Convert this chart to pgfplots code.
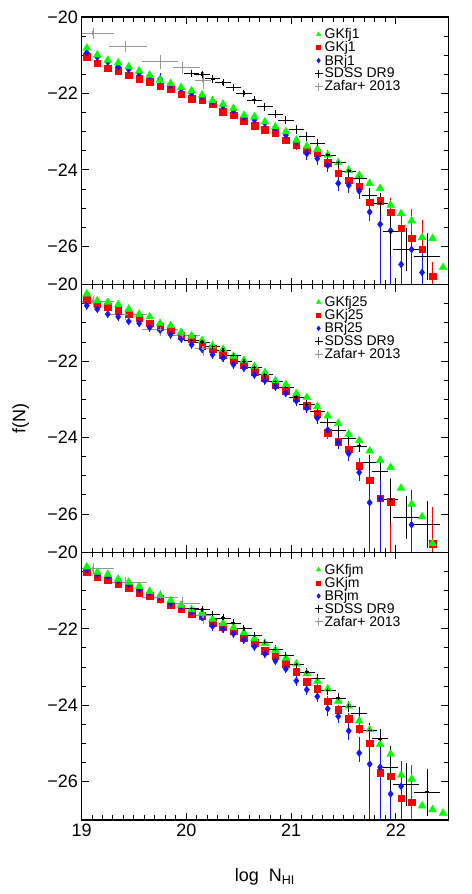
\documentclass[border=0pt]{standalone}
\usepackage{fontspec}
\setmainfont{Liberation Sans}
\usepackage{pgfplots}
\usepackage{pgfplotstable}
\pgfplotsset{compat=1.18}

\definecolor{mgreen}{RGB}{0,255,0}
\definecolor{mred}{RGB}{255,0,0}
\definecolor{mblue}{RGB}{20,20,255}
\definecolor{zgray}{RGB}{150,150,150}

% model points: x, GKfj, GKj (+/-), BRj (+/-)
\pgfplotstableread{
x g r rp rm b bp bm
19.05 -20.81 -21.04 0.03 0.03 -20.93 0.04 0.04
19.15 -20.99 -21.21 0.03 0.03 -21.05 0.04 0.04
19.25 -21.13 -21.34 0.03 0.03 -21.18 0.08 0.04
19.35 -21.20 -21.40 0.03 0.03 -21.30 0.04 0.04
19.45 -21.30 -21.52 0.03 0.03 -21.37 0.04 0.04
19.55 -21.41 -21.62 0.03 0.03 -21.47 0.04 0.04
19.65 -21.52 -21.69 0.03 0.03 -21.55 0.04 0.04
19.75 -21.65 -21.81 0.03 0.03 -21.62 0.08 0.04
19.85 -21.74 -21.87 0.03 0.03 -21.78 0.04 0.04
19.95 -21.84 -22.02 0.03 0.03 -21.88 0.04 0.04
20.05 -21.93 -22.13 0.03 0.03 -22.00 0.04 0.04
20.15 -22.04 -22.17 0.03 0.03 -22.08 0.04 0.04
20.25 -22.19 -22.28 0.03 0.03 -22.22 0.04 0.04
20.35 -22.28 -22.48 0.03 0.03 -22.33 0.04 0.04
20.45 -22.39 -22.57 0.03 0.03 -22.45 0.04 0.04
20.55 -22.57 -22.71 0.03 0.03 -22.62 0.04 0.04
20.65 -22.61 -22.85 0.03 0.03 -22.69 0.04 0.04
20.75 -22.74 -22.94 0.03 0.03 -22.78 0.04 0.04
20.85 -22.87 -23.03 0.03 0.03 -22.91 0.04 0.04
20.95 -23.00 -23.22 0.03 0.03 -23.09 0.04 0.04
21.05 -23.22 -23.35 0.05 0.05 -23.26 0.06 0.06
21.15 -23.38 -23.48 0.06 0.06 -23.57 0.10 0.10
21.25 -23.46 -23.55 0.07 0.07 -23.70 0.10 0.10
21.35 -23.61 -23.81 0.08 0.08 -23.88 0.10 0.10
21.45 -23.81 -24.09 0.10 0.10 -24.35 0.14 0.14
21.55 -24.01 -24.27 0.10 0.10 -24.40 0.13 0.13
21.65 -24.14 -24.42 0.12 0.12 -24.55 0.15 0.15
21.75 -24.35 -24.84 0.13 0.13 -25.10 0.17 0.17
21.85 -24.48 -24.81 0.15 0.15 -25.42 0.60 3.00
21.95 -24.92 -25.10 0.30 0.50 -25.59 0.45 3.00
22.05 -25.14 -25.52 0.40 3.00 -26.47 0.90 3.00
22.15 -25.33 -25.79 0.70 3.00 -26.08 0.40 3.00
22.25 -25.77 -26.07 0.70 3.00 -26.68 0.55 3.00
22.35 -25.79 -26.78 0.30 0.30 nan 0 0
22.45 -26.55 nan 0 0 nan 0 0
}\Tone

\pgfplotstableread{
x g r rp rm b bp bm
19.05 -20.24 -20.40 0.03 0.03 -20.55 0.04 0.04
19.15 -20.42 -20.51 0.03 0.03 -20.64 0.04 0.04
19.25 -20.46 -20.58 0.03 0.03 -20.77 0.04 0.04
19.35 -20.52 -20.68 0.03 0.03 -20.84 0.04 0.04
19.45 -20.64 -20.77 0.03 0.03 -20.96 0.04 0.04
19.55 -20.77 -20.87 0.03 0.03 -21.01 0.04 0.04
19.65 -20.84 -21.01 0.03 0.03 -21.12 0.04 0.04
19.75 -21.01 -21.10 0.03 0.03 -21.19 0.04 0.04
19.85 -21.07 -21.19 0.03 0.03 -21.31 0.04 0.04
19.95 -21.25 -21.34 0.03 0.03 -21.41 0.04 0.04
20.05 -21.34 -21.42 0.03 0.03 -21.57 0.04 0.04
20.15 -21.46 -21.60 0.03 0.03 -21.69 0.04 0.04
20.25 -21.60 -21.68 0.03 0.03 -21.83 0.04 0.04
20.35 -21.69 -21.83 0.03 0.03 -21.92 0.04 0.04
20.45 -21.87 -21.97 0.03 0.03 -22.09 0.04 0.04
20.55 -21.98 -22.09 0.03 0.03 -22.18 0.04 0.04
20.65 -22.14 -22.27 0.03 0.03 -22.36 0.04 0.04
20.75 -22.30 -22.43 0.03 0.03 -22.51 0.04 0.04
20.85 -22.51 -22.62 0.03 0.03 -22.67 0.04 0.04
20.95 -22.61 -22.78 0.03 0.03 -22.84 0.04 0.04
21.05 -22.85 -22.97 0.05 0.05 -23.04 0.06 0.06
21.15 -22.95 -23.17 0.07 0.07 -23.23 0.07 0.07
21.25 -23.19 -23.38 0.08 0.08 -23.49 0.08 0.08
21.35 -23.43 -23.87 0.10 0.10 -23.80 0.10 0.10
21.45 -23.63 -24.10 0.10 0.10 -24.13 0.10 0.10
21.55 -23.91 -24.30 0.12 0.12 -24.42 0.12 0.12
21.65 -24.08 -24.74 0.15 0.15 -24.91 0.15 0.15
21.75 -24.35 -25.11 0.60 0.30 -25.70 1.10 3.00
21.85 -24.59 -25.58 0.40 0.40 -25.60 0.50 3.00
21.95 -24.78 -25.67 0.55 3.00 nan 0 0
22.05 -25.32 nan 0 0 nan 0 0
22.15 -25.74 nan 0 0 -26.28 0.85 3.00
22.25 -26.07 nan 0 0 nan 0 0
22.35 -26.77 -26.78 0.90 3.00 nan 0 0
}\Ttwo

\pgfplotstableread{
x g r rp rm b bp bm
19.05 -20.38 -20.52 0.03 0.03 -20.45 0.04 0.04
19.15 -20.52 -20.64 0.03 0.03 -20.57 0.04 0.04
19.25 -20.58 -20.73 0.03 0.03 -20.64 0.04 0.04
19.35 -20.70 -20.82 0.03 0.03 -20.74 0.04 0.04
19.45 -20.78 -20.93 0.03 0.03 -20.84 0.04 0.04
19.55 -20.89 -21.05 0.03 0.03 -20.98 0.04 0.04
19.65 -21.02 -21.13 0.03 0.03 -21.05 0.04 0.04
19.75 -21.13 -21.22 0.03 0.03 -21.16 0.04 0.04
19.85 -21.26 -21.38 0.03 0.03 -21.33 0.04 0.04
19.95 -21.38 -21.47 0.03 0.03 -21.42 0.04 0.04
20.05 -21.50 -21.60 0.03 0.03 -21.56 0.04 0.04
20.15 -21.59 -21.66 0.03 0.03 -21.70 0.04 0.04
20.25 -21.75 -21.84 0.03 0.03 -21.93 0.06 0.06
20.35 -21.86 -21.95 0.03 0.03 -22.01 0.04 0.04
20.45 -21.97 -22.06 0.03 0.03 -22.13 0.04 0.04
20.55 -22.10 -22.23 0.03 0.03 -22.29 0.04 0.04
20.65 -22.26 -22.37 0.03 0.03 -22.47 0.04 0.04
20.75 -22.38 -22.57 0.03 0.03 -22.66 0.04 0.04
20.85 -22.56 -22.72 0.03 0.03 -22.84 0.04 0.04
20.95 -22.77 -22.92 0.03 0.03 -23.05 0.04 0.04
21.05 -22.92 -23.13 0.05 0.05 -23.36 0.06 0.06
21.15 -23.17 -23.39 0.05 0.05 -23.59 0.08 0.08
21.25 -23.37 -23.57 0.06 0.06 -23.77 0.08 0.08
21.35 -23.57 -23.89 0.06 0.06 -24.09 0.12 0.12
21.45 -23.89 -24.12 0.07 0.07 -24.29 0.10 0.10
21.55 -24.02 -24.35 0.07 0.07 -24.67 0.17 0.17
21.65 -24.41 -24.61 0.08 0.08 -25.25 0.36 0.16
21.75 -24.64 -24.99 0.10 0.10 -25.54 0.65 3.00
21.85 -25.02 -25.76 0.10 0.10 -25.62 0.50 3.00
21.95 -25.28 -25.86 0.70 0.30 -26.32 0.80 3.00
22.05 -25.83 -26.43 0.10 0.10 -26.12 0.60 3.00
22.15 -25.93 -26.54 0.90 3.00 nan 0 0
22.25 -26.63 nan 0 0 nan 0 0
22.35 -26.73 nan 0 0 nan 0 0
22.45 -26.82 nan 0 0 nan 0 0
}\Tthree

% SDSS DR9
\pgfplotstableread{
x y xe yp ym
20.05 -21.47 0.05 0.03 0.03
20.15 -21.50 0.05 0.03 0.03
20.25 -21.62 0.05 0.03 0.03
20.35 -21.72 0.05 0.03 0.03
20.45 -21.85 0.05 0.03 0.03
20.55 -22.00 0.05 0.03 0.03
20.65 -22.17 0.05 0.03 0.03
20.75 -22.35 0.05 0.03 0.03
20.85 -22.54 0.05 0.04 0.04
20.95 -22.70 0.05 0.04 0.04
21.05 -22.94 0.05 0.05 0.05
21.15 -23.13 0.05 0.05 0.05
21.25 -23.31 0.05 0.06 0.06
21.35 -23.61 0.05 0.06 0.06
21.45 -23.81 0.05 0.07 0.07
21.55 -24.03 0.05 0.08 0.08
21.65 -24.22 0.05 0.10 0.10
21.75 -24.66 0.05 0.13 0.13
21.85 -24.88 0.05 0.20 0.20
21.95 -25.62 0.05 0.48 0.55
22.10 -26.08 0.10 0.50 0.50
22.30 -26.27 0.10 0.55 0.55
}\Tsdss

% Zafar+ 2013
\pgfplotstableread{
x y xp xm yp ym
19.11 -20.43 0.18 0.12 0.08 0.08
19.42 -20.78 0.18 0.13 0.08 0.08
19.75 -21.17 0.15 0.15 0.12 0.12
19.96 -21.33 0.15 0.06 0.10 0.10
20.16 -21.66 0.05 0.05 0.15 0.15
}\Tzafar

\pgfplotsset{
  panel/.style={
    scale only axis, width=366.5pt, height=267.5pt,
    xmin=19, xmax=22.5, ymin=-27, ymax=-20,
    xtick={19,20,21,22}, minor x tick num=9,
    ytick={-26,-24,-22,-20}, yticklabels={−26,−24,−22,−20},
    minor y tick num=3,
    axis on top,
    tick align=inside, major tick length=7pt, minor tick length=4.5pt,
    every tick/.append style={black, line width=1pt},
    axis line style={line width=1.1pt},
    tick label style={font=\fontsize{18}{18}\selectfont},
    legend style={draw=none, fill=none, at={(rel axis cs:0.635,0.965)},
      anchor=north west, font=\fontsize{14}{14}\selectfont,
      row sep=-2.5pt, inner sep=0pt, cells={anchor=west},
      /tikz/every even column/.append style={column sep=8pt}},
    legend image code/.code={\draw[##1] plot coordinates {(0pt,0pt)};},
  },
  yerr/.style={error bars/.cd, y dir=both, y explicit,
    error bar style={line width=0.9pt},
    error mark options={mark size=2.5pt, line width=0.9pt}},
}

\newcommand{\drawpanel}[4]{%
  \addlegendimage{only marks, mark=triangle*, mark size=2.6pt, mgreen}
  \addlegendentry{#2}
  \addlegendimage{only marks, mark=square*, mark size=2pt, mred}
  \addlegendentry{#3}
  \addlegendimage{only marks, mark=diamond*, mark size=2.4pt, mblue}
  \addlegendentry{#4}
  \addlegendimage{only marks, mark=+, mark size=4pt, line width=1pt, black}
  \addlegendentry{SDSS DR9}
  \addlegendimage{only marks, mark=+, mark size=4pt, line width=1pt, zgray}
  \addlegendentry{Zafar+ 2013}
  \addplot[forget plot, mred, only marks, mark=square*, mark size=3.3pt, yerr]
    table[x=x, y=r, y error plus=rp, y error minus=rm]{#1};
  \addplot[forget plot, mblue, only marks, mark=diamond*, mark size=3.5pt, yerr]
    table[x=x, y=b, y error plus=bp, y error minus=bm]{#1};
  \addplot[forget plot, mgreen, only marks, mark=triangle*, mark size=4.5pt]
    table[x=x, y=g]{#1};
  \addplot[forget plot, black, only marks, mark=+, mark size=2pt,
    mark options={line width=1.2pt}, yerr, x dir=both, x explicit]
    table[x=x, y=y, x error=xe, y error plus=yp, y error minus=ym]{\Tsdss};
  \addplot[forget plot, zgray, only marks, mark=+, mark size=2pt,
    mark options={line width=1.2pt}, yerr, x dir=both, x explicit]
    table[x=x, y=y, x error plus=xp, x error minus=xm, y error plus=yp, y error minus=ym]{\Tzafar};
}

\begin{document}
\begin{tikzpicture}
\begin{axis}[panel, name=top, xticklabels={}]
  \drawpanel{\Tone}{GKfj1}{GKj1}{BRj1}
\end{axis}
\begin{axis}[panel, name=mid, at={(top.south west)}, anchor=north west,
  xticklabels={},
  ylabel={f(N)},
  ylabel style={font=\fontsize{18}{18}\selectfont, at={(axis description cs:-0.166,0.5)},
    anchor=center}]
  \drawpanel{\Ttwo}{GKfj25}{GKj25}{BRj25}
\end{axis}
\begin{axis}[panel, name=bot, at={(mid.south west)}, anchor=north west,
  xticklabels={19,20,21,22},
  xlabel={log\ \ N\textsubscript{HI}},
  xlabel style={font=\fontsize{18}{18}\selectfont, at={(axis description cs:0.5,-0.213)},
    anchor=center}]
  \drawpanel{\Tthree}{GKfjm}{GKjm}{BRjm}
\end{axis}
\path (bot.south west) +(-81.5pt,-74pt) (top.north east) +(23pt,17pt);
\end{tikzpicture}
\end{document}
